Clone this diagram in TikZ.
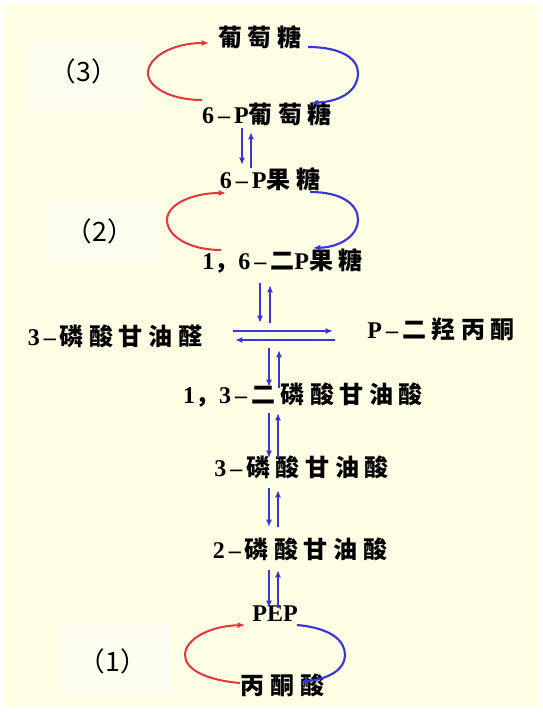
\documentclass[tikz,border=0pt]{standalone}
\usepackage{fontspec}
\setmainfont{Liberation Serif}
\newfontfamily\zh{Noto Sans CJK SC}[LetterSpace=23]
\newfontfamily\zhlab{Noto Sans CJK SC}
\usetikzlibrary{calc, arrows.meta}
\definecolor{pathblue}{RGB}{55,55,215}
\definecolor{pathred}{RGB}{228,55,55}
\definecolor{paleyellow}{RGB}{255,255,230}
\definecolor{palebox}{RGB}{253,253,239}

\begin{document}
\begin{tikzpicture}[x=.75pt, y=-.75pt, >={Latex[length=5.5pt, width=4.5pt]}]
\tikzstyle{chem} = [inner sep=0pt, text height=.83em, text depth=.07em, font=\fontsize{18}{20}\selectfont\bfseries]
\tikzstyle{lab} = [inner sep=0pt, font=\fontsize{20}{22}\selectfont\zhlab]
\tikzstyle{bl} = [->, draw=pathblue, line width=1.6pt]
\tikzstyle{rd} = [->, draw=pathred, line width=1.5pt]

\useasboundingbox (0,0) rectangle (542,712);
\fill[paleyellow] (3,4) rectangle (538,707);

% label boxes
\fill[palebox] (29,40) rectangle (143,110);
\fill[palebox] (47,197) rectangle (159,267);
\fill[palebox] (60,625) rectangle (171,695);

\node (lab3) [lab] at (84,71) {（3）};
\node (lab2) [lab] at (100,231) {（2）};
\node (lab1) [lab] at (113,661) {（1）};

\node (glu) [chem] at (260,41.5) {\zh 葡萄糖};
\node (g6p) [chem] at (267,118) {6\,--\,P{\zh 葡萄糖}};
\node (f6p) [chem] at (270,183) {6\,--\,P{\zh 果糖}};
\node (fbp) [chem] at (282.5,264) {1{\zh ，}6\,--\,{\zh 二}P{\zh 果糖}};
\node (gap) [chem] at (115,340) {3\,--\,{\zh 磷酸甘油醛}};
\node (dhap) [chem] at (441,333.5) {P\,--\,{\zh 二羟丙酮}};
\node (bpg) [chem] at (303,398) {1{\zh ，}3\,--\,{\zh 二磷酸甘油酸}};
\node (pg3) [chem] at (301.5,471) {3\,--\,{\zh 磷酸甘油酸}};
\node (pg2) [chem] at (300,553.5) {2\,--\,{\zh 磷酸甘油酸}};
\node (pep) [chem] at (275,616) {PEP};
\node (pyr) [chem] at (282.5,689) {\zh 丙酮酸};

\coordinate (split) at (284,335.5);

% cycle (3)
\draw[rd] ($(g6p)+(-65,-18)$) .. controls +(-30,0) and +(0,15) .. ++(-54,-27) .. controls +(0,-16) and +(-36,0) .. ($(glu)+(-51,1.5)$);
\draw[bl] ($(glu)+(48,5.5)$) .. controls +(32,0) and +(0,-15) .. ++(50,26) .. controls +(0,16) and +(33,-2) .. ($(g6p)+(44,-15)$);

\draw[bl] ($(g6p)+(-25,10)$) -- ($(f6p)+(-28,-18)$);
\draw[bl] ($(f6p)+(-19,-15)$) -- ($(g6p)+(-16,14)$);

% cycle (2)
\draw[rd] ($(fbp)+(-61.5,-14)$) .. controls +(-32,0) and +(0,16) .. ++(-54,-30) .. controls +(0,-16) and +(-33,0) .. ($(f6p)+(-44,10)$);
\draw[bl] ($(f6p)+(40,9)$) .. controls +(33,0) and +(0,-15) .. ++(48,28) .. controls +(0,15) and +(28,-1) .. ($(fbp)+(30.5,-16)$);

\draw[bl] ($(fbp)+(-22.5,19)$) -- ($(split)+(-24,-12.5)$);
\draw[bl] ($(split)+(-14,-12.5)$) -- ($(fbp)+(-12.5,21)$);

\draw[bl] ($(gap)+(118,-9)$) -- ($(dhap)+(-108,-2.5)$);
\draw[bl] ($(dhap)+(-106,6.5)$) -- ($(gap)+(120,0)$);

\draw[bl] ($(split)+(-15,12.5)$) -- ($(bpg)+(-34,-11)$);
\draw[bl] ($(bpg)+(-24,-10)$) -- ($(split)+(-5,14.5)$);

\draw[bl] ($(bpg)+(-34,15)$) -- ($(pg3)+(-32.5,-13)$);
\draw[bl] ($(pg3)+(-23.5,-13)$) -- ($(bpg)+(-25,15)$);

\draw[bl] ($(pg3)+(-32.5,17)$) -- ($(pg2)+(-31,-26.5)$);
\draw[bl] ($(pg2)+(-22,-26.5)$) -- ($(pg3)+(-23.5,19)$);

\draw[bl] ($(pg2)+(-31,16.5)$) -- ($(pep)+(-6,-8)$);
\draw[bl] ($(pep)+(3,-8)$) -- ($(pg2)+(-22,16.5)$);

% cycle (1)
\draw[rd] ($(pyr)+(-42.5,-6)$) .. controls +(-35,-3) and +(0,14) .. ++(-55,-28) .. controls +(0,-16) and +(-35,1) .. ($(pep)+(-30,9)$);
\draw[bl] ($(pep)+(22,9)$) .. controls +(33,3) and +(0,-15) .. ++(48,30) .. controls +(0,15) and +(28,-3) .. ($(pyr)+(17.5,-7)$);

\end{tikzpicture}
\end{document}
